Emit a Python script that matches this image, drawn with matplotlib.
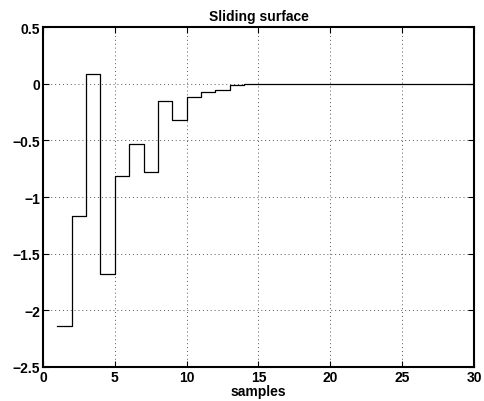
import numpy as np
import matplotlib
matplotlib.use("Agg")
import matplotlib.pyplot as plt

plt.rcParams['font.family'] = ['Liberation Sans', 'DejaVu Sans']
plt.rcParams['font.weight'] = 'bold'

samples = np.arange(1, 31)
sigma = [-2.14, -1.165, 0.085, -1.68, -0.81, -0.535, -0.78, -0.153, -0.32, -0.115,
         -0.072, -0.055, -0.015, -0.006, -0.002, 0.0, 0.0, 0.0, 0.0, 0.0,
         0.0, 0.0, 0.0, 0.0, 0.0, 0.0, 0.0, 0.0, 0.0, 0.0]
xticks = [0, 5, 10, 15, 20, 25, 30]
yticks = [-2.5, -2, -1.5, -1, -0.5, 0, 0.5]

fig = plt.figure(figsize=(4.84, 4.02), dpi=100)
ax = fig.add_axes([0.0888, 0.0846, 0.8905, 0.8455])
ax.step(samples, sigma, where='post', color='black', linewidth=0.9)

ax.set_xlim(0, 30)
ax.set_ylim(-2.5, 0.5)
ax.set_xticks(xticks)
ax.set_yticks(yticks)
ax.set_yticklabels(['\u22122.5', '\u22122', '\u22121.5', '\u22121', '\u22120.5', '0', '0.5'])
ax.grid(True, linestyle=(0, (1, 3)), color='#555555', linewidth=0.7)
ax.tick_params(direction='in', top=True, right=True, labelsize=10, pad=2, length=4)
for s in ax.spines.values():
    s.set_linewidth(1.5)

ax.set_title('Sliding surface', fontsize=10, fontweight='bold', pad=5)
ax.set_xlabel('samples', fontsize=10, fontweight='bold', labelpad=0)

fig.savefig('out.png', dpi=100)
